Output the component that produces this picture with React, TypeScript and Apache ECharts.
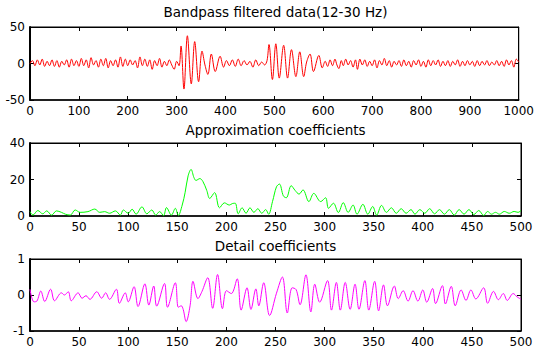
import React, { useEffect, useRef } from "react";
import * as echarts from "echarts";

// ---- Data ----
const titles = ["Bandpass filtered data(12-30 Hz)", "Approximation coefficients", "Detail coefficients"];

const bandpass: [number, number][] = [
  [0,0],[5,4],[10,-3],[15,5],[20,-2],[25,6],[30,-4],[35,3],[40,-3],[45,5],[50,-4],[55,4],[60,-5],[65,3],[70,-2],[75,5],[80,-5],[85,6],[90,-3],[95,4],
  [100,-4],[105,7],[110,-3],[115,5],[120,-6],[125,8],[130,-2],[135,4],[140,-5],[145,6],[150,-3],[155,7],[160,-6],[165,4],[170,-3],[175,5],[180,-5],[185,9],[190,-4],[195,6],
  [200,-3],[205,5],[210,-2],[215,4],[220,-6],[225,9],[230,-3],[235,6],[240,-4],[245,5],[250,-8],[255,4],[260,-3],[265,7],[270,-5],[275,3],[280,-3],[285,5],[290,-2],[295,-8],
  [300,3],[305,-3],[309,24],[315,-35],[322,38],[330,-28],[337,30],[345,-25],[352,17],[358,-2],[364,-15],[371,13],[379,-11],[389,10],[396,-5],
  [402,4],[408,-3],[414,5],[420,-4],[426,6],[432,-3],[438,4],[444,-2],[450,3],[456,-5],[462,5],[468,-3],[474,2],[480,-2],[485,4],
  [489,26],[496,-22],[503,27],[510,-20],[519,25],[527,-20],[535,19],[544,-18],[552,16],[560,-18],[566,2],[573,13],[580,-11],[591,11],[598,-6],
  [604,3],[609,-4],[614,5],[619,-3],[624,6],[628,-2],[632,-7],[637,4],[641,-3],[646,6],[651,-2],[656,4],[661,-5],[666,5],[670,-8],[675,6],[680,-2],[685,5],[690,-4],[695,3],
  [700,-3],[705,5],[710,-6],[715,4],[720,-2],[725,7],[730,-3],[735,4],[740,-5],[745,3],[750,-2],[755,4],[760,-4],[765,5],[770,-3],[775,3],[780,-5],[785,4],[790,-2],[795,5],
  [800,-4],[805,3],[810,-5],[815,5],[820,-3],[825,4],[830,-2],[835,5],[840,-4],[845,3],[850,-3],[855,4],[860,-4],[865,3],[870,-2],[875,5],[880,-4],[885,3],[890,-3],[895,4],
  [900,-2],[905,3],[910,-4],[915,4],[920,-3],[925,3],[930,-2],[935,4],[940,-3],[945,2],[950,-2],[955,4],[960,-3],[965,3],[970,-4],[975,5],[980,-2],[985,4],[990,-5],[995,6],[1000,2]
];

const approx: [number, number][] = [
  [0,2.4],[3,0.5],[8,3],[13,1.2],[17,2.8],[22,0.5],[27,2.8],[32,2],[36,1],[41,0.5],[46,3.3],[51,2],[59,2.4],[66,3.8],[71,2],[76,2.4],[81,1.5],[87,2.8],[92,0.5],[95,3.3],
  [100,1.5],[104,3.7],[108,1],[114,5],[119,1.2],[124,3.3],[128,0.5],[132,2.4],[136,0.2],[139,4.6],[144,0.5],[148,4.2],[151,0.3],[155,6],[158,13],[161,22],[164,25.5],[167,21],[169,19.5],[173,20.5],[176,19],[180,14],[183,9.6],[188,12.8],[193,4.5],[198,7.2],
  [203,6],[206,6.8],[209,7],[212,1.2],[216,4.5],[220,1.5],[224,4.5],[228,2],[232,4],[236,1.5],[240,3.5],[243,1],[247,8],[251,16],[254,17.5],[258,11],[261,10],[266,16.6],[270,14],[274,12],[278,14.3],[284,7.9],[289,12.4],[296,7.9],
  [301,10],[304,4.2],[309,7],[314,1.9],[319,7.3],[324,2],[329,6],[333,1],[339,6.4],[344,1],[349,5.2],[353,0.5],[358,5.8],[363,2],[368,4.5],[373,1.5],[378,4],[383,1.5],[388,3.5],[392,1],[397,3.5],
  [402,1.5],[407,4],[412,1.2],[417,3.5],[422,1],[427,3.5],[432,0.5],[437,3.5],[442,1],[447,3.5],[452,0.8],[457,3],[462,0.3],[466,2.5],[470,1],[474,2],[478,1],[483,2.5],[488,1.5],[493,2.5],[497,2],[500,3]
];

const detail: [number, number][] = [
  [0,0.16],[4,-0.19],[7,-0.17],[11,0.11],[15,-0.18],[21,0.16],[25,-0.16],[32,0.06],[35,0],[39,0.09],[42,-0.16],[49,0.06],[53,-0.09],[57,-0.02],[61,-0.12],[68,0.09],[73,-0.09],[77,0.06],[81,-0.12],[88,0.16],[91,-0.23],[97,0.06],
  [100,-0.19],[106,0.23],[110,-0.32],[117,0.31],[121,-0.28],[126,0.25],[129,-0.31],[137,0.32],[140,-0.34],[148,0.34],[151,-0.34],[154,-0.3],[156,-0.4],[159,-0.74],[163,-0.3],[166,0.38],[171,-0.1],[175,0.09],[181,0.48],[186,-0.37],[191,0.57],[196,-0.38],
  [200,0.12],[205,0.04],[211,0.45],[215,-0.42],[221,0.2],[225,-0.4],[230,0.17],[233,-0.3],[238,0.34],[244,-0.57],[251,0.05],[257,0.5],[262,-0.5],[267,0.2],[271,0.15],[275,-0.27],[281,0.56],[286,-0.47],[290,0.3],[295,-0.2],
  [303,0.4],[307,-0.42],[312,0.35],[316,-0.42],[321,0.35],[326,-0.4],[331,0.3],[335,-0.4],[341,0.4],[345,-0.42],[351,0.38],[355,-0.44],[360,0.28],[364,-0.3],[371,0.25],[375,-0.1],[380,0.12],[385,-0.17],[390,0.12],[395,-0.17],
  [400,0.14],[404,-0.2],[410,0.18],[413,-0.24],[420,0.26],[423,-0.25],[429,0.24],[433,-0.3],[439,0.14],[444,-0.15],[449,0.14],[454,-0.11],[462,0.2],[466,-0.23],[472,0.1],[477,-0.13],[482,0.04],[486,-0.15],[492,0.04],[496,-0.05],[500,-0.12]
];

const xMax = [1000, 500, 500];
const xStep = [100, 50, 50];
const yMin = [-50, 0, -1];
const yMax = [50, 40, 1];
const yStep = [50, 20, 1];
const colors = ["#ff0000", "#00ff00", "#ff00ff"];
const seriesData = [bandpass, approx, detail];

export default function App() {
  const ref = useRef<HTMLDivElement>(null);
  useEffect(() => {
    document.body.style.margin = "0";
    const chart = echarts.init(ref.current!, undefined, { renderer: "svg" });
    const tops = [27, 143, 259];
    const heights = [73, 73, 72];
    const left = 30;
    const width = 491;
    const font = "'DejaVu Sans', Arial, sans-serif";
    const grids = tops.map((t, i) => ({
      left, top: t, width, height: heights[i],
      show: true, borderColor: "#000", borderWidth: 1, backgroundColor: "#fff",
    }));
    const xAxes: any[] = [];
    const yAxes: any[] = [];
    const series: any[] = [];
    const fmt = (v: number) => String(v);
    for (let i = 0; i < 3; i++) {
      const baseX = {
        type: "value", gridIndex: i, min: 0, max: xMax[i], interval: xStep[i],
        splitLine: { show: false },
        axisTick: { show: true, inside: true, length: 4, lineStyle: { color: "#000" } },
      };
      xAxes.push({ ...baseX, position: "bottom",
        axisLine: { show: true, onZero: false, lineStyle: { color: "#000", width: 1.5 } },
        axisLabel: { color: "#000", fontSize: 12, fontFamily: font, margin: 5, formatter: fmt } });
      xAxes.push({ ...baseX, position: "top",
        axisLine: { show: true, onZero: false, lineStyle: { color: "#000", width: 1 } },
        axisLabel: { show: false } });
      const baseY = {
        type: "value", gridIndex: i, min: yMin[i], max: yMax[i], interval: yStep[i],
        splitLine: { show: false },
        axisTick: { show: true, inside: true, length: 4, lineStyle: { color: "#000" } },
      };
      yAxes.push({ ...baseY, position: "left",
        axisLine: { show: true, onZero: false, lineStyle: { color: "#000", width: 2 } },
        axisLabel: { color: "#000", fontSize: 12, fontFamily: font, margin: 5, formatter: fmt } });
      yAxes.push({ ...baseY, position: "right",
        axisLine: { show: true, onZero: false, lineStyle: { color: "#000", width: 1 } },
        axisLabel: { show: false } });
      series.push({
        type: "line", xAxisIndex: i * 2, yAxisIndex: i * 2,
        data: seriesData[i], showSymbol: false, smooth: 0.35,
        lineStyle: { color: colors[i], width: 1 }, itemStyle: { color: colors[i] },
      });
    }
    const titleY = [12, 130, 246];
    chart.setOption({
      animation: false,
      backgroundColor: "#fff",
      grid: grids,
      xAxis: xAxes,
      yAxis: yAxes,
      series,
      graphic: titles.map((t, i) => ({
        type: "text", x: left + width / 2, y: titleY[i],
        style: { text: t, fill: "#000", font: `13.5px ${font}`, textAlign: "center", textVerticalAlign: "middle" },
      })),
    });
    return () => chart.dispose();
  }, []);
  return <div ref={ref} style={{ width: 537, height: 354 }} />;
}
